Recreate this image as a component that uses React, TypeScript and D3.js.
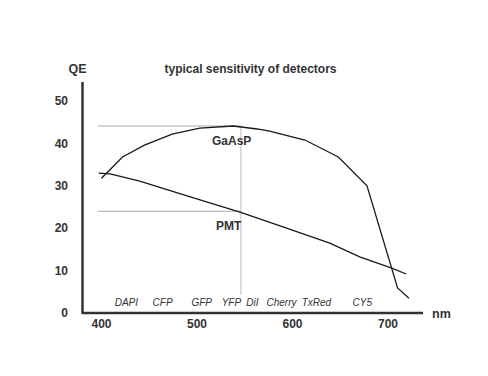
import React from "react";
import * as d3 from "d3";

const W = 488;
const H = 376;

// Data (wavelength nm, QE %)
const gaasp: [number, number][] = [
  [400, 31.8], [422, 36.8], [445, 39.6], [474, 42.2], [503, 43.6], [538, 44.1],
  [563, 43.4], [576, 42.9], [613, 40.8], [648, 36.8], [678, 30.0], [710, 5.9], [722, 3.5],
];
const pmt: [number, number][] = [
  [397, 33.0], [409, 32.8], [440, 31.1], [493, 27.4], [545, 23.8], [590, 20.3],
  [639, 16.5], [671, 13.2], [704, 10.6], [719, 9.2],
];
const dyeNames = ["DAPI", "CFP", "GFP", "YFP", "DiI", "Cherry", "TxRed", "CY5"];
const dyeNm = [426, 464, 505, 536, 558, 588.5, 625, 673];
const xTicks = [400, 500, 600, 700];
const yTicks = [0, 10, 20, 30, 40, 50];
const gaaspPeak = 44.1;
const pmtRef = 24;
const refNm = 546;
const refStartNm = 396;

export default function App() {
  const x = d3.scaleLinear().domain([400, 700]).range([101.5, 388]);
  const y = d3.scaleLinear().domain([0, 50]).range([313, 101]);
  const line = d3
    .line<[number, number]>()
    .x((d) => x(d[0]))
    .y((d) => y(d[1]))
    .curve(d3.curveLinear);
  const font = "'Liberation Sans', Arial, sans-serif";
  const ink = "#333";
  return (
    <svg
      width={W}
      height={H}
      style={{ position: "absolute", left: 0, top: 0, background: "#fff" }}
      fontFamily={font}
    >
      <rect width={W} height={H} fill="#fff" />
      {/* title */}
      <text x={250.5} y={73} textAnchor="middle" fontWeight="bold" fontSize={12} fill={ink}>
        typical sensitivity of detectors
      </text>
      <text x={77.5} y={73} textAnchor="middle" fontWeight="bold" fontSize={12.5} fill={ink}>
        QE
      </text>
      <text x={432} y={318} fontWeight="bold" fontSize={12.5} fill={ink}>
        nm
      </text>
      {/* reference lines */}
      <line x1={x(refStartNm)} x2={x(refNm)} y1={y(gaaspPeak)} y2={y(gaaspPeak)} stroke="#aaa" strokeWidth={1} />
      <line x1={x(refStartNm)} x2={x(refNm)} y1={y(pmtRef)} y2={y(pmtRef)} stroke="#aaa" strokeWidth={1} />
      <line x1={x(refNm)} x2={x(refNm)} y1={y(gaaspPeak)} y2={y(4.3)} stroke="#bbb" strokeWidth={1} />
      {/* axes */}
      <line x1={82.5} x2={82.5} y1={82} y2={313} stroke={ink} strokeWidth={2.5} />
      <line x1={81.5} x2={423} y1={313} y2={313} stroke={ink} strokeWidth={2.5} />
      {yTicks.map((t) => (
        <text key={t} x={68} y={y(t)} dy="0.35em" textAnchor="end" fontWeight="bold" fontSize={12} fill={ink}>
          {t}
        </text>
      ))}
      {xTicks.map((t) => (
        <text key={t} x={x(t)} y={328} textAnchor="middle" fontWeight="bold" fontSize={12} fill={ink}>
          {t}
        </text>
      ))}
      {/* curves */}
      <path d={line(gaasp) ?? ""} fill="none" stroke="#1a1a1a" strokeWidth={1.3} />
      <path d={line(pmt) ?? ""} fill="none" stroke="#1a1a1a" strokeWidth={1.3} />
      <text x={212} y={145} fontWeight="bold" fontSize={12} fill={ink}>
        GaAsP
      </text>
      <text x={216} y={230} fontWeight="bold" fontSize={12} fill={ink}>
        PMT
      </text>
      {dyeNames.map((n, i) => (
        <text key={n} x={x(dyeNm[i])} y={306} textAnchor="middle" fontStyle="italic" fontSize={10} fill={ink}>
          {n}
        </text>
      ))}
    </svg>
  );
}
